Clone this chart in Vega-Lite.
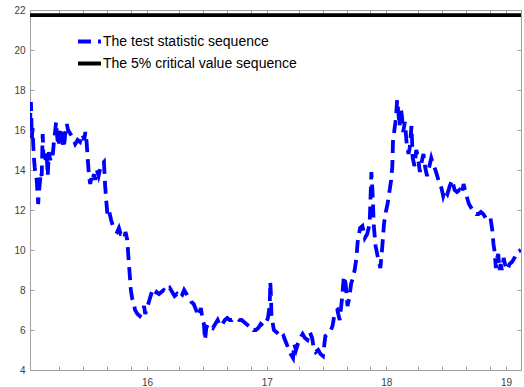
{
  "$schema": "https://vega.github.io/schema/vega-lite/v6.json",
  "autosize": {"type": "none"},
  "width": 491,
  "height": 360,
  "padding": {"left": 30, "top": 10, "right": 3, "bottom": 17},
  "config": {
    "font": "Liberation Sans",
    "view": {"stroke": null},
    "axis": {
      "domainColor": "#a0a0a0",
      "tickColor": "#a0a0a0",
      "domainWidth": 1,
      "tickWidth": 1,
      "grid": false,
      "labelFont": "Liberation Sans",
      "labelFontSize": 10,
      "labelColor": "#404040",
      "title": null
    },
    "legend": {
      "orient": "none",
      "legendX": 46,
      "legendY": 18,
      "padding": 0,
      "labelFont": "Liberation Sans",
      "labelFontSize": 14,
      "labelColor": "#000000",
      "labelLimit": 300,
      "symbolType": "stroke",
      "symbolSize": 529,
      "symbolStrokeWidth": 4,
      "labelOffset": 0,
      "rowPadding": -1
    }
  },
  "datasets": {
    "stat": [
      {"t":15.022,"v":16.2},{"t":15.026,"v":17.0},{"t":15.030,"v":17.4},{"t":15.034,"v":16.4},{"t":15.038,"v":15.6},
      {"t":15.043,"v":16.1},{"t":15.048,"v":15.4},{"t":15.055,"v":14.6},{"t":15.062,"v":14.1},{"t":15.070,"v":13.8},
      {"t":15.078,"v":13.5},{"t":15.085,"v":12.8},{"t":15.090,"v":12.3},{"t":15.097,"v":12.9},{"t":15.105,"v":13.4},
      {"t":15.113,"v":13.9},{"t":15.120,"v":13.7},{"t":15.128,"v":15.8},{"t":15.135,"v":14.6},{"t":15.143,"v":15.0},
      {"t":15.152,"v":14.5},{"t":15.160,"v":14.9},{"t":15.170,"v":13.7},{"t":15.180,"v":14.9},{"t":15.190,"v":14.5},
      {"t":15.200,"v":14.7},{"t":15.210,"v":14.6},{"t":15.220,"v":15.3},{"t":15.230,"v":15.8},{"t":15.240,"v":16.4},
      {"t":15.250,"v":15.6},{"t":15.260,"v":15.2},{"t":15.270,"v":15.7},{"t":15.280,"v":16.1},{"t":15.290,"v":15.9},
      {"t":15.300,"v":15.1},{"t":15.310,"v":15.4},{"t":15.320,"v":16.0},{"t":15.330,"v":16.3},{"t":15.340,"v":16.0},
      {"t":15.360,"v":15.8},{"t":15.380,"v":15.6},{"t":15.400,"v":15.3},{"t":15.420,"v":15.5},{"t":15.440,"v":15.4},
      {"t":15.460,"v":15.8},{"t":15.475,"v":15.5},{"t":15.485,"v":15.9},{"t":15.495,"v":15.4},{"t":15.505,"v":14.5},
      {"t":15.515,"v":13.7},{"t":15.525,"v":13.3},{"t":15.535,"v":13.6},{"t":15.545,"v":13.4},{"t":15.555,"v":13.8},
      {"t":15.565,"v":13.5},{"t":15.580,"v":14.0},{"t":15.595,"v":13.7},{"t":15.610,"v":14.1},{"t":15.625,"v":14.3},
      {"t":15.640,"v":14.4},{"t":15.650,"v":13.2},{"t":15.660,"v":12.4},{"t":15.670,"v":11.7},{"t":15.685,"v":11.9},
      {"t":15.700,"v":11.5},{"t":15.715,"v":11.2},{"t":15.730,"v":11.0},{"t":15.750,"v":10.9},{"t":15.765,"v":11.1},
      {"t":15.780,"v":10.8},{"t":15.795,"v":10.8},{"t":15.810,"v":10.6},{"t":15.820,"v":10.9},{"t":15.835,"v":10.5},
      {"t":15.845,"v":9.6},{"t":15.855,"v":8.8},{"t":15.865,"v":8.0},{"t":15.875,"v":7.6},{"t":15.890,"v":7.3},
      {"t":15.900,"v":7.0},{"t":15.920,"v":6.8},{"t":15.940,"v":6.7},{"t":15.960,"v":6.9},{"t":15.975,"v":7.2},
      {"t":15.985,"v":6.8},{"t":16.000,"v":7.1},{"t":16.020,"v":7.5},{"t":16.040,"v":7.9},{"t":16.060,"v":7.7},
      {"t":16.080,"v":7.9},{"t":16.100,"v":7.8},{"t":16.120,"v":7.9},{"t":16.140,"v":8.0},{"t":16.160,"v":7.9},
      {"t":16.190,"v":8.1},{"t":16.210,"v":7.9},{"t":16.230,"v":7.7},{"t":16.250,"v":7.8},{"t":16.270,"v":7.6},
      {"t":16.290,"v":7.7},{"t":16.310,"v":8.0},{"t":16.330,"v":7.8},{"t":16.350,"v":7.6},{"t":16.370,"v":7.4},
      {"t":16.390,"v":7.3},{"t":16.410,"v":7.0},{"t":16.430,"v":6.7},{"t":16.450,"v":7.1},{"t":16.465,"v":6.5},
      {"t":16.475,"v":6.3},{"t":16.485,"v":5.5},{"t":16.495,"v":6.1},{"t":16.510,"v":6.3},{"t":16.530,"v":6.2},
      {"t":16.550,"v":6.1},{"t":16.570,"v":6.3},{"t":16.590,"v":6.5},{"t":16.610,"v":6.2},{"t":16.630,"v":6.3},
      {"t":16.650,"v":6.5},{"t":16.670,"v":6.6},{"t":16.690,"v":6.5},{"t":16.710,"v":6.5},{"t":16.730,"v":6.6},
      {"t":16.750,"v":6.6},{"t":16.770,"v":6.5},{"t":16.790,"v":6.5},{"t":16.810,"v":6.4},{"t":16.830,"v":6.3},
      {"t":16.850,"v":6.2},{"t":16.870,"v":6.2},{"t":16.890,"v":6.0},{"t":16.910,"v":6.0},{"t":16.930,"v":6.1},
      {"t":16.950,"v":6.3},{"t":16.970,"v":6.2},{"t":16.990,"v":6.3},{"t":17.010,"v":6.6},{"t":17.025,"v":7.2},
      {"t":17.030,"v":8.4},{"t":17.035,"v":7.8},{"t":17.040,"v":6.7},{"t":17.060,"v":6.0},{"t":17.080,"v":5.9},
      {"t":17.100,"v":5.8},{"t":17.120,"v":5.6},{"t":17.140,"v":5.7},{"t":17.160,"v":5.4},{"t":17.180,"v":5.1},
      {"t":17.200,"v":4.8},{"t":17.220,"v":4.6},{"t":17.230,"v":5.3},{"t":17.245,"v":5.0},{"t":17.260,"v":5.3},
      {"t":17.280,"v":5.6},{"t":17.300,"v":5.8},{"t":17.320,"v":5.6},{"t":17.340,"v":5.5},{"t":17.360,"v":5.9},
      {"t":17.380,"v":5.6},{"t":17.390,"v":5.2},{"t":17.410,"v":4.9},{"t":17.430,"v":5.0},{"t":17.450,"v":4.8},
      {"t":17.470,"v":4.7},{"t":17.490,"v":5.7},{"t":17.510,"v":5.8},{"t":17.530,"v":5.9},{"t":17.550,"v":6.2},
      {"t":17.570,"v":6.9},{"t":17.590,"v":7.0},{"t":17.610,"v":6.5},{"t":17.630,"v":7.6},{"t":17.645,"v":8.7},
      {"t":17.660,"v":8.3},{"t":17.675,"v":7.2},{"t":17.690,"v":7.6},{"t":17.705,"v":8.3},{"t":17.720,"v":8.6},
      {"t":17.735,"v":9.0},{"t":17.750,"v":9.6},{"t":17.760,"v":10.4},{"t":17.780,"v":11.1},{"t":17.800,"v":11.2},
      {"t":17.820,"v":10.6},{"t":17.840,"v":10.8},{"t":17.860,"v":11.3},{"t":17.875,"v":13.9},{"t":17.885,"v":12.8},
      {"t":17.895,"v":11.2},{"t":17.910,"v":10.2},{"t":17.930,"v":9.6},{"t":17.950,"v":9.1},{"t":17.965,"v":10.1},
      {"t":17.980,"v":11.3},{"t":17.995,"v":11.9},{"t":18.010,"v":12.3},{"t":18.025,"v":12.9},{"t":18.040,"v":13.5},
      {"t":18.050,"v":14.2},{"t":18.055,"v":15.4},{"t":18.065,"v":15.9},{"t":18.080,"v":16.6},{"t":18.090,"v":17.5},
      {"t":18.100,"v":16.9},{"t":18.110,"v":16.2},{"t":18.120,"v":17.1},{"t":18.130,"v":16.7},{"t":18.140,"v":15.9},
      {"t":18.155,"v":16.4},{"t":18.170,"v":15.3},{"t":18.185,"v":14.8},{"t":18.195,"v":15.1},{"t":18.210,"v":16.2},
      {"t":18.220,"v":14.6},{"t":18.235,"v":14.2},{"t":18.250,"v":15.0},{"t":18.265,"v":14.6},{"t":18.280,"v":13.9},
      {"t":18.295,"v":14.4},{"t":18.310,"v":14.8},{"t":18.325,"v":14.1},{"t":18.340,"v":13.7},{"t":18.360,"v":14.2},
      {"t":18.375,"v":14.6},{"t":18.390,"v":14.3},{"t":18.410,"v":14.0},{"t":18.430,"v":13.6},{"t":18.445,"v":13.3},
      {"t":18.460,"v":13.1},{"t":18.475,"v":12.7},{"t":18.490,"v":13.0},{"t":18.510,"v":12.8},{"t":18.530,"v":13.2},
      {"t":18.550,"v":13.5},{"t":18.570,"v":13.0},{"t":18.590,"v":12.9},{"t":18.610,"v":13.0},{"t":18.630,"v":12.8},
      {"t":18.645,"v":13.3},{"t":18.660,"v":12.9},{"t":18.675,"v":12.6},{"t":18.690,"v":12.3},{"t":18.710,"v":12.1},
      {"t":18.730,"v":11.9},{"t":18.750,"v":11.8},{"t":18.770,"v":11.8},{"t":18.790,"v":11.9},{"t":18.810,"v":11.8},
      {"t":18.830,"v":11.6},{"t":18.850,"v":11.7},{"t":18.870,"v":11.6},{"t":18.885,"v":11.0},{"t":18.895,"v":10.3},
      {"t":18.905,"v":9.9},{"t":18.915,"v":9.1},{"t":18.925,"v":9.6},{"t":18.935,"v":9.8},{"t":18.945,"v":9.0},
      {"t":18.955,"v":9.3},{"t":18.965,"v":9.0},{"t":18.980,"v":9.6},{"t":18.995,"v":9.2},{"t":19.010,"v":9.0},
      {"t":19.030,"v":9.3},{"t":19.050,"v":9.4},{"t":19.070,"v":9.6},{"t":19.090,"v":9.9},{"t":19.110,"v":9.95},
      {"t":19.124,"v":10.0}
    ],
    "crit": [
      {"t":15.022,"v":21.74},{"t":19.125,"v":21.74}
    ]
  },
  "resolve": {"axis": {"x": "independent", "y": "independent"}},
  "layer": [
    {
      "data": {"name": "stat"},
      "mark": {"type": "line", "strokeWidth": 3.8, "clip": true},
      "encoding": {
        "x": {
          "field": "t", "type": "quantitative",
          "scale": {"domain": [15.022, 19.125], "nice": false, "zero": false},
          "axis": {
            "orient": "bottom",
            "values": [15.267,15.467,15.667,15.867,16,16.267,16.467,16.667,16.867,17,17.267,17.467,17.667,17.867,18,18.267,18.467,18.667,18.867,19],
            "labelExpr": "abs(datum.value - round(datum.value)) < 0.001 ? format(datum.value, 'd') : ''",
            "tickSize": -4,
            "labelPadding": 11
          }
        },
        "y": {
          "field": "v", "type": "quantitative",
          "scale": {"domain": [4, 22], "nice": false, "zero": false},
          "axis": {
            "orient": "left",
            "values": [4,6,8,10,12,14,16,18,20,22],
            "tickSize": -4,
            "labelPadding": 9
          }
        },
        "color": {
          "datum": "The test statistic sequence",
          "scale": {
            "domain": ["The test statistic sequence", "The 5% critical value sequence"],
            "range": ["#0000ff", "#000000"]
          },
          "legend": {"title": null}
        },
        "strokeDash": {
          "datum": "The test statistic sequence",
          "scale": {
            "domain": ["The test statistic sequence", "The 5% critical value sequence"],
            "range": [[13, 7], [1, 0]]
          },
          "legend": {"title": null}
        }
      }
    },
    {
      "data": {"name": "crit"},
      "mark": {"type": "line", "strokeWidth": 3.8},
      "encoding": {
        "x": {
          "field": "t", "type": "quantitative",
          "scale": {"domain": [15.022, 19.125], "nice": false, "zero": false},
          "axis": {
            "orient": "top",
            "values": [15.267,15.467,15.667,15.867,16,16.267,16.467,16.667,16.867,17,17.267,17.467,17.667,17.867,18,18.267,18.467,18.667,18.867,19],
            "labels": false,
            "tickSize": -4
          }
        },
        "y": {
          "field": "v", "type": "quantitative",
          "scale": {"domain": [4, 22], "nice": false, "zero": false},
          "axis": {
            "orient": "right",
            "values": [4,6,8,10,12,14,16,18,20,22],
            "labels": false,
            "tickSize": -4
          }
        },
        "color": {"datum": "The 5% critical value sequence"},
        "strokeDash": {"datum": "The 5% critical value sequence"}
      }
    }
  ]
}
